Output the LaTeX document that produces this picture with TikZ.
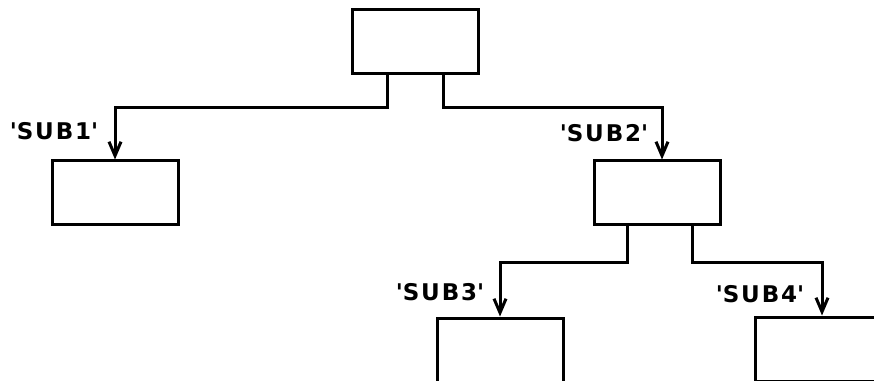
\documentclass[tikz,border=0pt]{standalone}
\usepackage{fontspec}
\newfontfamily\plotfont[LetterSpace=8]{DejaVu Sans}
\usetikzlibrary{arrows.meta,positioning}

\begin{document}
\begin{tikzpicture}[x=1pt,y=1pt,line width=3pt,
    proc/.style={draw,rectangle,minimum width=126pt,minimum height=64pt,inner sep=0pt},
    call/.style={-{Straight Barb[length=14pt,width=12pt]}},
    subname/.style={font=\plotfont\bfseries\fontsize{23}{23}\selectfont,inner sep=0pt}]
  \useasboundingbox (0,0) rectangle (874,380);
  \clip (0,0) rectangle (874,380);
  % the calling tree
  \node[proc] (main) at (415,338) {};
  \node[proc] (sub1) at (115,187) {};
  \node[proc] (sub2) at (657,187) {};
  \node[proc] (sub3) at (500,30) {};
  \node[proc] (sub4) at (818,31) {};
  \draw[call] ([xshift=-28pt]main.south) -- ++(0,-32) -| (sub1.north);
  \draw[call] ([xshift=28pt]main.south) -- ++(0,-32) -| ([xshift=5pt]sub2.north);
  \draw[call] ([xshift=-30pt]sub2.south) -- ++(0,-36) -| (sub3.north);
  \draw[call] ([xshift=35pt]sub2.south) -- ++(0,-36) -| ([xshift=4pt]sub4.north);
  % entry names
  \node[subname] (name1) at (54,249) {\textquotesingle SUB1\textquotesingle};
  \node[subname] (name2) at (604,247) {\textquotesingle SUB2\textquotesingle};
  \node[subname] (name3) at (440,88) {\textquotesingle SUB3\textquotesingle};
  \node[subname] (name4) at (760,86) {\textquotesingle SUB4\textquotesingle};
\end{tikzpicture}
\end{document}
